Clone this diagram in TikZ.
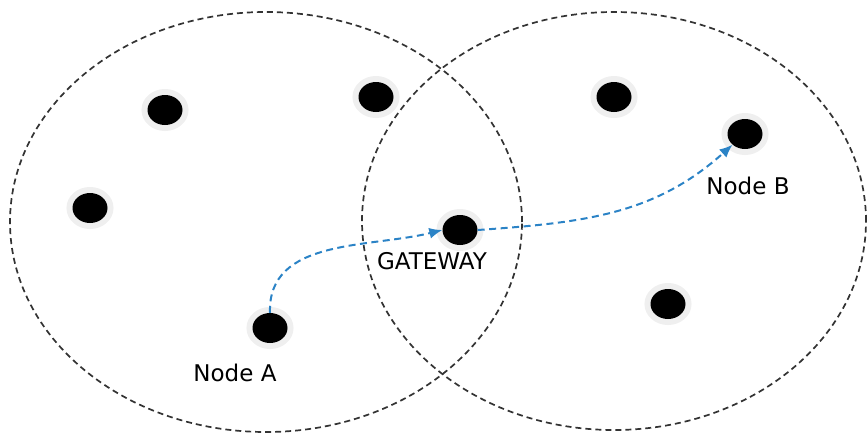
\documentclass[tikz,border=0pt]{standalone}
\usepackage{fontspec}
\setmainfont{DejaVu Sans}
\usepackage{xcolor}
\usetikzlibrary{arrows.meta,shapes.geometric,positioning}
\definecolor{hopblue}{HTML}{2B83C6}
\definecolor{rangegray}{HTML}{333333}
\definecolor{halogray}{HTML}{EFEFEF}

\begin{document}
\begin{tikzpicture}[
  x=1pt, y=1pt,
  >=Latex,
  coverage/.style={draw=rangegray, line width=1.7pt, dash pattern=on 6pt off 4pt},
  sensor/.style={ellipse, fill=black, minimum width=35pt, minimum height=30pt, inner sep=0pt,
    preaction={draw=halogray, line width=12pt}},
  tag/.style={font=\fontsize{23}{26}\selectfont, inner sep=0pt},
  hop/.style={->, draw=hopblue, line width=2pt, dash pattern=on 7pt off 4.5pt,
    -{Latex[length=13pt, width=11pt]}}
]
  \useasboundingbox (0,0) rectangle (867,-434);
  % coverage areas
  \draw[coverage] (266,-222) ellipse [x radius=256, y radius=210];
  \draw[coverage] (614,-221) ellipse [x radius=252, y radius=209];
  % sensor nodes
  \node[sensor] (n1) at (165,-110) {};
  \node[sensor] (n2) at (376,-97) {};
  \node[sensor] (n3) at (90,-208) {};
  \node[sensor] (na) at (270,-328) {};
  \node[sensor] (gw) at (460,-230) {};
  \node[sensor] (n4) at (614,-97) {};
  \node[sensor] (nb) at (745,-134) {};
  \node[sensor] (n5) at (668,-304) {};
  % labels
  \node[tag] (la) at (235,-373) {Node A};
  \node[tag] (lgw) at (432,-261) {GATEWAY};
  \node[tag] (lb) at (748,-186) {Node B};
  % route
  \draw[hop] (na.north) to[out=92, in=194] (gw.west);
  \draw[hop] (gw.east) to[out=4, in=222] (nb.south west);
\end{tikzpicture}
\end{document}
